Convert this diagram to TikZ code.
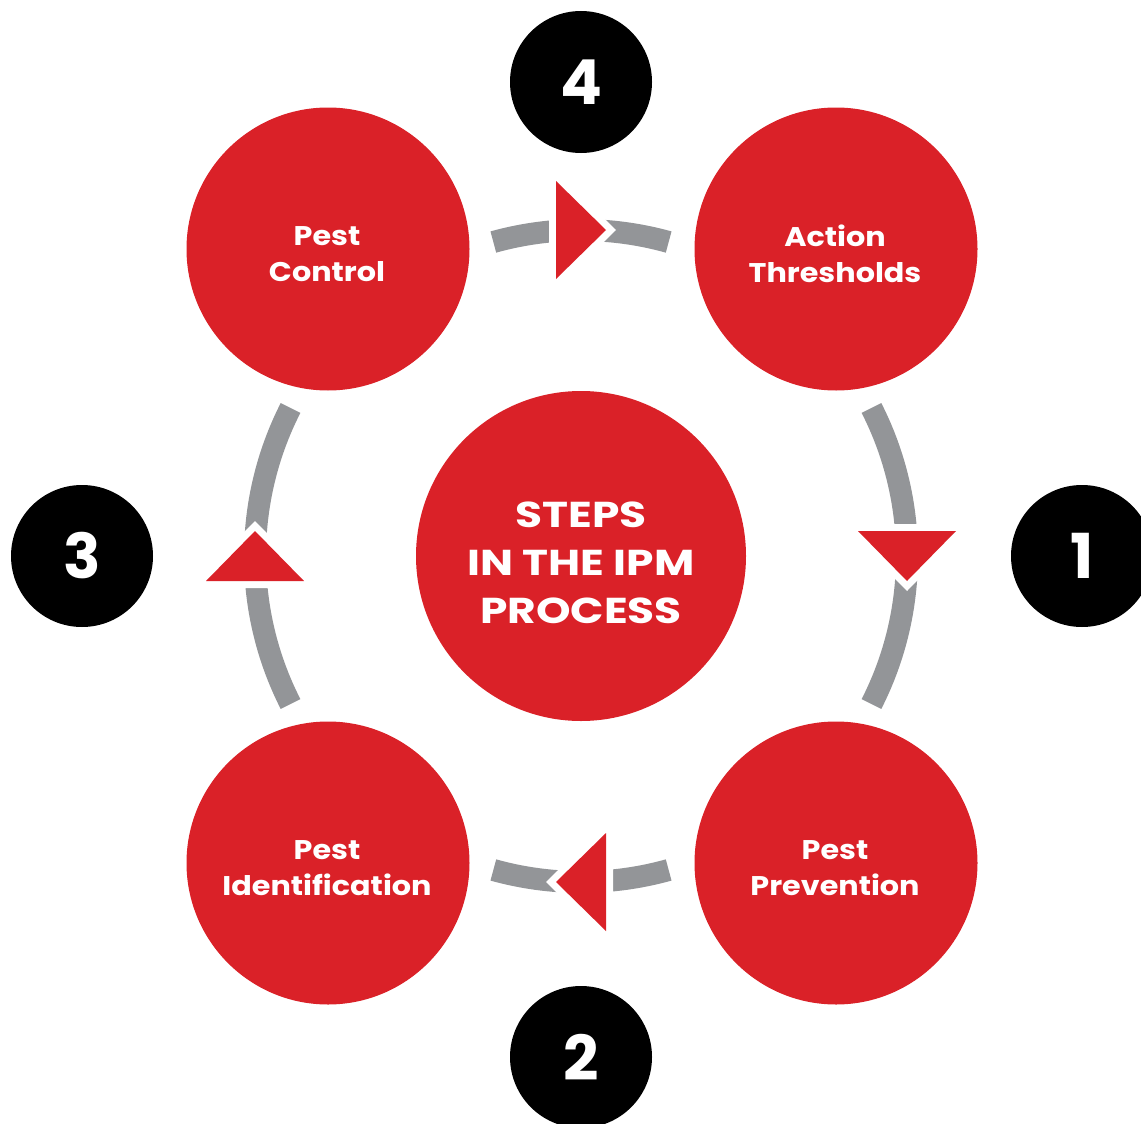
\documentclass[tikz,border=0pt]{standalone}
\usepackage{fontspec}
\setmainfont{Poppins}
\newfontfamily\steptextfont{Poppins}[FakeStretch=1.12]
\newfontfamily\maintextfont{Poppins}[FakeStretch=1.22]
\usetikzlibrary{calc}
\definecolor{ipmred}{RGB}{218,33,40}
\definecolor{ipmgray}{RGB}{147,149,152}
\begin{document}
\begin{tikzpicture}[x=1pt,y=-1pt,
  stepcirc/.style={circle,fill=ipmred,minimum size=283pt,inner sep=0pt},
  maincirc/.style={circle,fill=ipmred,minimum size=330pt,inner sep=0pt},
  steptext/.style={text=white,align=center,font=\steptextfont\bfseries\fontsize{27}{36}\selectfont},
  maintext/.style={text=white,align=center,font=\maintextfont\bfseries\fontsize{36}{48}\selectfont},
  numcirc/.style={circle,fill=black,minimum size=142pt,inner sep=0pt,text=white,
    font=\bfseries\fontsize{62}{62}\selectfont},
  ring/.style={draw=ipmgray,line width=22pt},
  tipback/.style={draw=white,line width=14pt,line join=miter,fill=white},
  tipfill/.style={fill=ipmred}
]
\useasboundingbox (0,0) rectangle (1141,1124);
\clip (0,0) rectangle (1141,1124);

% centre
\node[maincirc] (ctr) at (581,556) {};
\node[maintext] (ctrtext) at (581,563) {STEPS\\IN THE IPM\\PROCESS};

% step circles
\node[stepcirc] (control) at (328,249) {};
\node[stepcirc] (action) at (836,249) {};
\node[stepcirc] (ident) at (328,863) {};
\node[stepcirc] (prev) at (836,863) {};
\node[steptext] (controlt) at (327,254) {Pest\\Control};
\node[steptext] (actiont) at (835,254) {Action\\Thresholds};
\node[steptext] (identt) at (327,868) {Pest\\Identification};
\node[steptext] (prevt) at (835,868) {Pest\\Prevention};

% number circles
\node[numcirc] (n4) at (581,82) {4};
\node[numcirc] (n1) at (1082,556) {1};
\node[numcirc] (n3) at (82,556) {3};
\node[numcirc] (n2) at (581,1057) {2};

% ring segments
\draw[ring] ($(ctr.center)+(-105.6:326)$) arc[start angle=-105.6,end angle=-74.4,radius=326];
\draw[ring] ($(ctr.center)+(-27:326)$) arc[start angle=-27,end angle=27,radius=326];
\draw[ring] ($(ctr.center)+(74.4:326)$) arc[start angle=74.4,end angle=105.6,radius=326];
\draw[ring] ($(ctr.center)+(153:326)$) arc[start angle=153,end angle=207,radius=326];

% arrow heads (white outline, then red)
\foreach \s in {tipback,tipfill}{
  \path[\s] ($(ctr.center)+(-25,-375)$) -- ($(ctr.center)+(-25,-277)$) -- ($(ctr.center)+(25,-326)$) -- cycle;
  \path[\s] ($(ctr.center)+(277,-25)$) -- ($(ctr.center)+(375,-25)$) -- ($(ctr.center)+(326,25)$) -- cycle;
  \path[\s] ($(ctr.center)+(25,277)$) -- ($(ctr.center)+(25,375)$) -- ($(ctr.center)+(-25,326)$) -- cycle;
  \path[\s] ($(ctr.center)+(-375,25)$) -- ($(ctr.center)+(-277,25)$) -- ($(ctr.center)+(-326,-25)$) -- cycle;
}
\end{tikzpicture}
\end{document}
